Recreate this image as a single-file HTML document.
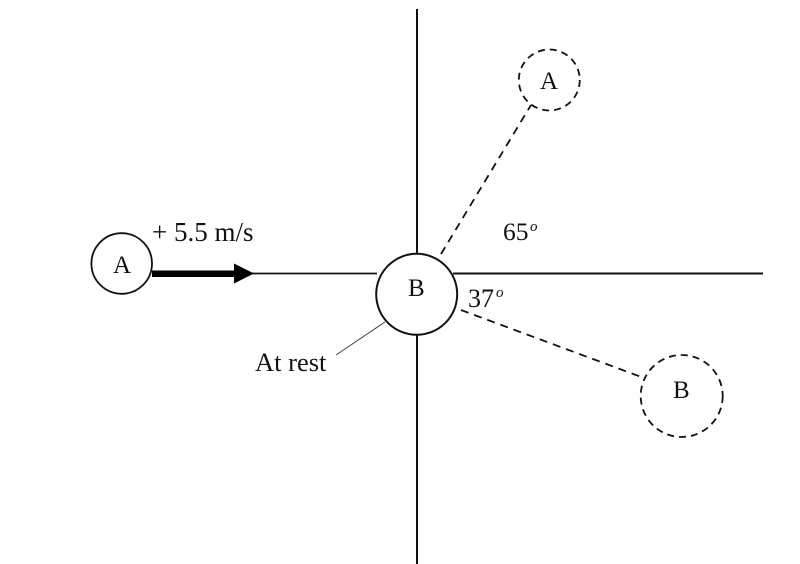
<!DOCTYPE html>
<html>
<head>
<meta charset="utf-8">
<style>
html,body{margin:0;padding:0;background:#fff;}
svg{display:block;}
text{font-family:"Liberation Serif",serif;fill:#111;}
</style>
</head>
<body>
<svg width="800" height="564" viewBox="0 0 800 564" xmlns="http://www.w3.org/2000/svg">
<rect width="800" height="564" fill="#fff"/>
<g stroke="#111" fill="none">
<line x1="417" y1="9" x2="417" y2="254" stroke-width="2"/>
<line x1="417" y1="335" x2="417" y2="564" stroke-width="2"/>
<line x1="250" y1="273.5" x2="377" y2="273.5" stroke-width="1.8"/>
<line x1="453" y1="273.5" x2="763" y2="273.5" stroke-width="2"/>
<circle cx="121.7" cy="263.5" r="30.3" stroke-width="1.8"/>
<circle cx="416.7" cy="294.3" r="40.5" stroke-width="2"/>
<circle cx="549.3" cy="80" r="30.5" stroke-width="1.8" stroke-dasharray="7 5"/>
<circle cx="681.7" cy="396" r="41" stroke-width="1.8" stroke-dasharray="7 5"/>
<line x1="441" y1="254" x2="531" y2="105" stroke-width="1.8" stroke-dasharray="8 6"/>
<line x1="461" y1="310" x2="644" y2="378" stroke-width="1.8" stroke-dasharray="8 6"/>
<line x1="385" y1="322" x2="336" y2="355" stroke-width="1" stroke="#444"/>
</g>
<rect x="152" y="270.5" width="84" height="6.5" fill="#000"/>
<polygon points="234,263.5 254,273.5 234,283.5" fill="#000"/>
<text x="113" y="273" font-size="25">A</text>
<text x="408" y="296" font-size="25">B</text>
<text x="540" y="89" font-size="25">A</text>
<text x="673" y="398" font-size="25">B</text>
<text x="152" y="241" font-size="27">+ 5.5 m/s</text>
<text x="255" y="371" font-size="26.5">At rest</text>
<text x="503" y="240" font-size="25.5">65</text>
<text x="530" y="231" font-size="15" font-style="italic">o</text>
<text x="468" y="307" font-size="26">37</text>
<text x="496" y="297" font-size="15" font-style="italic">o</text>
</svg>
</body>
</html>
